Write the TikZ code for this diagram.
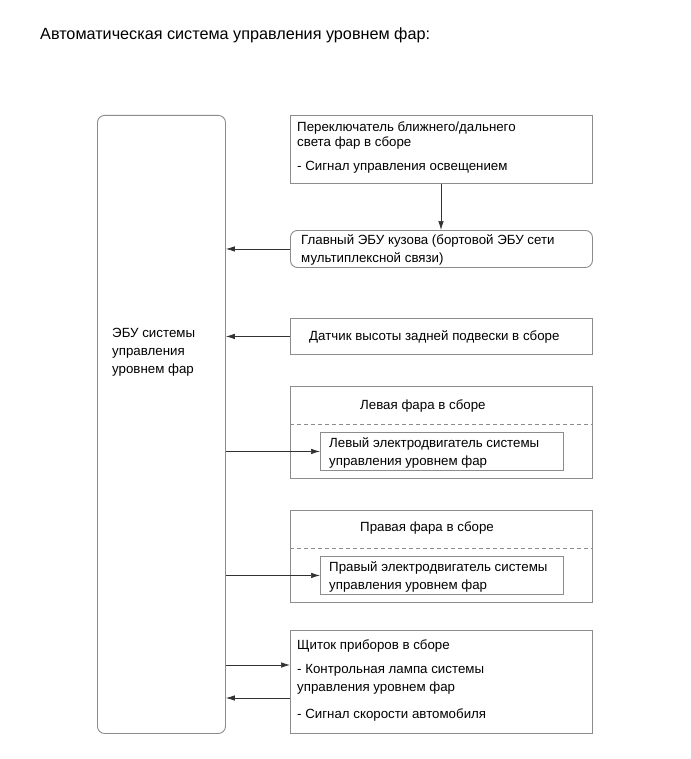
\documentclass[tikz,border=0pt]{standalone}
\usepackage{fontspec}
\setmainfont{Liberation Sans}
\usetikzlibrary{arrows.meta}
\definecolor{boxgray}{RGB}{140,140,140}
\definecolor{arrgray}{RGB}{50,50,50}
\begin{document}
\begin{tikzpicture}[x=1pt,y=-1pt,
  box/.style={draw=boxgray, line width=0.9pt, anchor=north west, inner sep=0pt, minimum width=302pt},
  txt/.style={anchor=base west, inner sep=0pt, font=\fontsize{13.3}{18}\selectfont, align=left},
  arr/.style={draw=arrgray, line width=0.7pt, -{Latex[length=9pt,width=5.5pt]}},
  dsh/.style={draw=boxgray, line width=0.7pt, dash pattern=on 4pt off 3pt}]
\useasboundingbox (0,0) rectangle (690,759);
\fill[white] (0,0) rectangle (690,759);

\node[anchor=base west, inner sep=0pt, font=\fontsize{16.2}{19}\selectfont] (title) at (40,40) {Автоматическая система управления уровнем фар:};

% ECU
\node[box, rounded corners=7pt, minimum width=128pt, minimum height=618pt] (ecu) at (97,115) {};
\node[txt] (ecut) at (112,373) {ЭБУ системы\\управления\\уровнем фар};

% switch
\node[box, minimum height=68pt] (sw) at (290,115) {};
\node[txt] (swt1) at (297,132) {Переключатель ближнего/дальнего};
\node[txt] (swt2) at (297,147) {света фар в сборе};
\node[txt] (swt3) at (297,171) {- Сигнал управления освещением};

% main body ECU
\node[box, rounded corners=7pt, minimum height=37pt] (mb) at (290,230) {};
\node[txt] (mbt) at (301,262) {Главный ЭБУ кузова (бортовой ЭБУ сети\\мультиплексной связи)};

% sensor
\node[box, minimum height=36pt] (sen) at (290,318) {};
\node[txt] (sent) at (309,340) {Датчик высоты задней подвески в сборе};

% left headlamp
\node[box, minimum height=92pt] (lh) at (290,386) {};
\node[txt] (lht) at (360,409) {Левая фара в сборе};
\coordinate (lhd1) at (290,424);
\coordinate (lhd2) at (592,424);
\node[box, minimum width=243pt, minimum height=38pt] (lm) at (320,432) {};
\node[txt] (lmt) at (329,465) {Левый электродвигатель системы\\управления уровнем фар};

% right headlamp
\node[box, minimum height=92pt] (rh) at (290,510) {};
\node[txt] (rht) at (360,531) {Правая фара в сборе};
\coordinate (rhd1) at (290,548);
\coordinate (rhd2) at (592,548);
\node[box, minimum width=243pt, minimum height=38pt] (rm) at (320,556) {};
\node[txt] (rmt) at (329,589) {Правый электродвигатель системы\\управления уровнем фар};

% cluster
\node[box, minimum height=103pt] (cl) at (290,630) {};
\node[txt] (clt1) at (297,649) {Щиток приборов в сборе};
\node[txt] (clt2) at (297,691) {- Контрольная лампа системы\\управления уровнем фар};
\node[txt] (clt3) at (297,718) {- Сигнал скорости автомобиля};
\coordinate (c1) at (290,665);
\coordinate (c2) at (290,698);

% connectors
\draw[dsh] (lhd1) -- (lhd2);
\draw[dsh] (rhd1) -- (rhd2);
\draw[arr] (sw.south -| 441,0) -- (mb.north -| 441,0);
\draw[arr] (mb.west) -- (ecu.east |- mb.west);
\draw[arr] (sen.west) -- (ecu.east |- sen.west);
\draw[arr] (ecu.east |- lm.west) -- (lm.west);
\draw[arr] (ecu.east |- rm.west) -- (rm.west);
\draw[arr] (ecu.east |- c1) -- (c1);
\draw[arr] (c2) -- (ecu.east |- c2);
\end{tikzpicture}
\end{document}
